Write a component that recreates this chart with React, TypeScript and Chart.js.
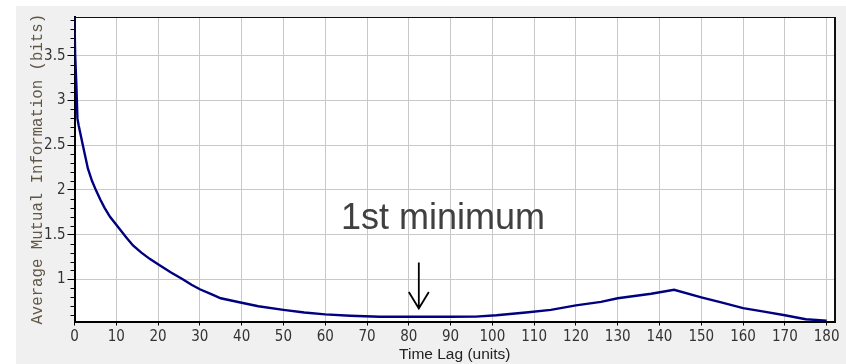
import React, { useEffect, useRef } from "react";
import { Chart, registerables } from "chart.js";

Chart.register(...registerables);

// ---- data ----
const LAG = [0, 0.15, 0.45, 0.7, 1, 2, 3.2, 4.2, 5.2, 6.2, 7.2, 8.5, 10, 12.4, 14, 16, 18, 20, 23, 26, 28, 30, 33, 35, 40, 44, 50, 55, 60, 66, 73, 80, 90, 96, 101, 108, 114, 120, 126, 130, 138, 143.5, 150, 155, 160, 165, 170, 175, 180];
const AMI = [3.93, 3.52, 3.17, 2.8, 2.72, 2.5, 2.24, 2.1, 1.99, 1.89, 1.8, 1.7, 1.61, 1.47, 1.38, 1.3, 1.23, 1.17, 1.08, 1.0, 0.94, 0.89, 0.83, 0.79, 0.74, 0.7, 0.66, 0.63, 0.61, 0.595, 0.583, 0.583, 0.583, 0.585, 0.6, 0.63, 0.66, 0.71, 0.75, 0.79, 0.84, 0.885, 0.8, 0.74, 0.68, 0.64, 0.6, 0.555, 0.54];

const X_TICKS = [0, 10, 20, 30, 40, 50, 60, 70, 80, 90, 100, 110, 120, 130, 140, 150, 160, 170, 180];
const Y_TICKS = [1, 1.5, 2, 2.5, 3, 3.5];
const Y_TICK_LABELS = ["1", "1.5", "2", "2.5", "3", "3.5"];
const Y_MINOR_STEP = 0.1;

const X_MIN = 0;
const X_MAX = 182;
const Y_MIN = 0.53;
const Y_MAX = 3.933;

const X_TITLE = "Time Lag (units)";
const Y_TITLE = "Average Mutual Information (bits)";

const ANNOT_TEXT = "1st minimum";
const ANNOT_TEXT_X = 88.2;
const ANNOT_TEXT_Y = 1.56;
const ARROW_X = 82.4;
const ARROW_TOP = 1.19;
const ARROW_TIP = 0.676;

const TICK_FONT = { family: "'Liberation Sans Narrow', 'DejaVu Sans Condensed', 'Liberation Sans', Arial, sans-serif", size: 15 };

const decorPlugin = {
  id: "decor",
  beforeDraw(chart: any) {
    const { ctx, chartArea: a } = chart;
    ctx.save();
    ctx.fillStyle = "#ffffff";
    ctx.fillRect(a.left, a.top, a.right - a.left, a.bottom - a.top);
    ctx.restore();
  },
  afterDatasetsDraw(chart: any) {
    const { ctx, chartArea: a, scales } = chart;
    const xs = scales.x;
    const ys = scales.y;
    ctx.save();
    // top & right border
    ctx.strokeStyle = "#111";
    ctx.lineWidth = 1;
    ctx.beginPath();
    ctx.moveTo(a.left, Math.floor(a.top) + 0.5);
    ctx.lineTo(a.right, Math.floor(a.top) + 0.5);
    ctx.stroke();
    ctx.lineWidth = 2;
    ctx.beginPath();
    ctx.moveTo(Math.round(a.right), a.top);
    ctx.lineTo(Math.round(a.right), a.bottom);
    ctx.stroke();
    // minor y ticks
    ctx.strokeStyle = "#000";
    ctx.lineWidth = 1;
    for (let i = Math.ceil(Y_MIN / Y_MINOR_STEP); i * Y_MINOR_STEP <= Y_MAX; i++) {
      const v = Math.round(i * Y_MINOR_STEP * 10) / 10;
      if (Y_TICKS.some((t) => Math.abs(t - v) < 1e-6)) continue;
      const py = Math.round(ys.getPixelForValue(v)) + 0.5;
      ctx.beginPath();
      ctx.moveTo(a.left - 4, py);
      ctx.lineTo(a.left, py);
      ctx.stroke();
    }
    // annotation text
    ctx.fillStyle = "#404040";
    ctx.font = "36px 'Liberation Sans', Arial, sans-serif";
    ctx.textAlign = "center";
    ctx.textBaseline = "alphabetic";
    ctx.fillText(ANNOT_TEXT, xs.getPixelForValue(ANNOT_TEXT_X), ys.getPixelForValue(ANNOT_TEXT_Y));
    // arrow
    const ax = xs.getPixelForValue(ARROW_X);
    const at = ys.getPixelForValue(ARROW_TOP);
    const ab = ys.getPixelForValue(ARROW_TIP);
    ctx.strokeStyle = "#000";
    ctx.lineWidth = 1.8;
    ctx.beginPath();
    ctx.moveTo(ax, at);
    ctx.lineTo(ax, ab);
    ctx.moveTo(ax - 10, ab - 16.5);
    ctx.lineTo(ax, ab);
    ctx.lineTo(ax + 10, ab - 16.5);
    ctx.stroke();
    ctx.restore();
  },
};

export default function App() {
  const ref = useRef<HTMLCanvasElement | null>(null);
  useEffect(() => {
    if (!ref.current) return;
    const points = LAG.map((x, i) => ({ x, y: AMI[i] }));
    const chart = new Chart(ref.current, {
      type: "line",
      data: {
        datasets: [
          {
            data: points,
            borderColor: "#000080",
            borderWidth: 2.4,
            pointRadius: 0,
            tension: 0,
            fill: false,
          },
        ],
      },
      options: {
        animation: false,
        responsive: false,
        devicePixelRatio: 1,
        layout: { padding: { top: 7.5, right: 11, bottom: 0, left: 0 } },
        plugins: { legend: { display: false }, tooltip: { enabled: false } },
        scales: {
          x: {
            type: "linear",
            min: X_MIN,
            max: X_MAX,
            afterBuildTicks: (s: any) => {
              s.ticks = X_TICKS.map((v) => ({ value: v }));
            },
            afterFit: (s: any) => {
              s.height = 42.5;
            },
            grid: { color: "#c8c8c8", lineWidth: 1, tickColor: "#000", tickLength: 4, drawTicks: true },
            border: { color: "#000", width: 2 },
            ticks: { color: "#333", font: TICK_FONT, padding: 3, maxRotation: 0, autoSkip: false, callback: (v: any) => String(v) },
            title: {
              display: true,
              text: X_TITLE,
              color: "#222",
              font: { family: "'Liberation Sans', Arial, sans-serif", size: 15.5 },
              padding: { top: 0, bottom: 0 },
            },
          },
          y: {
            type: "linear",
            min: Y_MIN,
            max: Y_MAX,
            afterBuildTicks: (s: any) => {
              s.ticks = Y_TICKS.map((v) => ({ value: v }));
            },
            afterFit: (s: any) => {
              s.width = 58.5;
            },
            grid: { color: "#c8c8c8", lineWidth: 1, tickColor: "#000", tickLength: 7, drawTicks: true },
            border: { color: "#000", width: 2 },
            ticks: {
              color: "#333",
              font: TICK_FONT,
              padding: 2,
              callback: (v: any) => {
                const i = Y_TICKS.findIndex((t) => Math.abs(t - Number(v)) < 1e-6);
                return i >= 0 ? Y_TICK_LABELS[i] : String(v);
              },
            },
            title: {
              display: true,
              text: Y_TITLE,
              color: "#5f5646",
              font: { family: "'Liberation Mono', 'DejaVu Sans Mono', monospace", size: 15.7 },
              padding: { top: 12, bottom: 0 },
            },
          },
        },
      },
      plugins: [decorPlugin],
    });
    return () => chart.destroy();
  }, []);
  return (
    <div style={{ position: "fixed", left: 16, top: 6, width: 830, height: 358, background: "#f0f0f0" }}>
      <canvas ref={ref} width={830} height={358} style={{ display: "block", width: 830, height: 358 }} />
    </div>
  );
}
